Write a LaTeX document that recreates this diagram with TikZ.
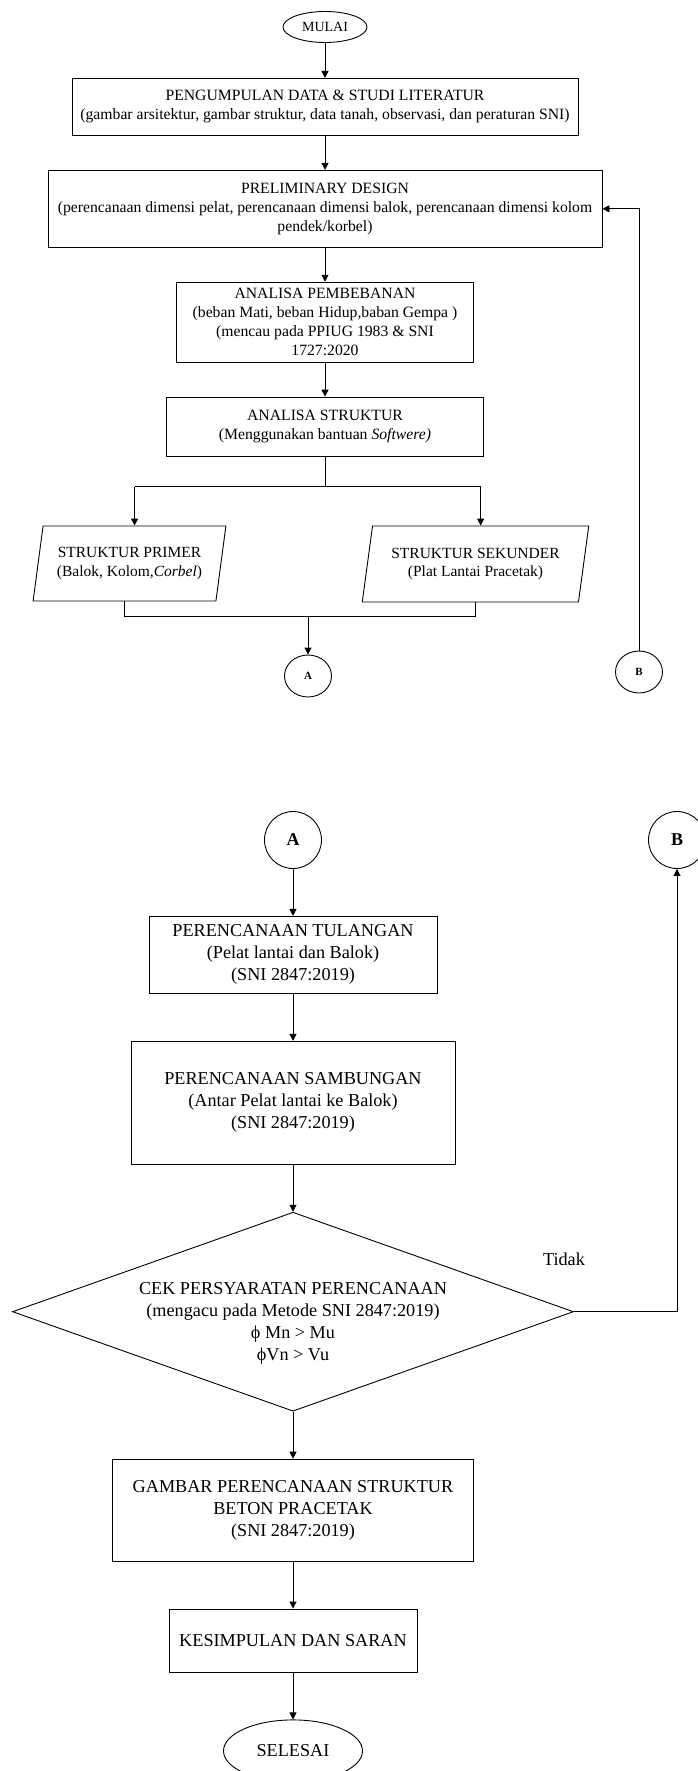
\documentclass[tikz,border=0pt]{standalone}
\usepackage{fontspec}
\setmainfont{Liberation Serif}
\usetikzlibrary{shapes.geometric, arrows.meta, positioning}

\begin{document}
\begin{tikzpicture}[
    x=1pt, y=1pt, line width=0.9pt,
    box/.style={draw, align=center, inner sep=2pt,
                font=\fontsize{15.7}{19}\selectfont},
    bigbox/.style={box, font=\fontsize{18.2}{22}\selectfont},
    term/.style={draw, ellipse, inner sep=0pt, font=\fontsize{14}{16}\selectfont},
    para/.style={draw, trapezium, trapezium left angle=76, trapezium right angle=104,
                 trapezium stretches=true, align=center, inner sep=1pt,
                 font=\fontsize{15.5}{18.5}\selectfont},
    conn/.style={draw, ellipse, inner sep=0pt, font=\bfseries\fontsize{11}{13}\selectfont},
    bigconn/.style={conn, minimum size=57pt, font=\bfseries\fontsize{18}{20}\selectfont},
    decision/.style={draw, diamond, aspect=2.82, inner sep=0pt, align=center,
                     font=\fontsize{18.2}{22}\selectfont},
    arrow/.style={-{Triangle[length=7pt,width=7pt]}},
    node distance=34pt,
]
\useasboundingbox (0,0) rectangle (697,-1771);

    % bagian pertama
    \node[term, minimum width=84pt, minimum height=31pt] (mulai) at (325,-27) {MULAI};
    \node[box, below=35pt of mulai, minimum width=506pt, minimum height=57pt] (data)
        {PENGUMPULAN DATA \& STUDI LITERATUR \\ (gambar arsitektur, gambar struktur, data tanah, observasi, dan peraturan SNI)};
    \node[box, below=of data, minimum width=554pt, minimum height=77pt] (prelim)
        {PRELIMINARY DESIGN \\ (perencanaan dimensi pelat, perencanaan dimensi balok, perencanaan dimensi kolom \\ pendek/korbel)};
    \node[box, below=of prelim, minimum width=297pt, minimum height=80pt] (beban)
        {ANALISA PEMBEBANAN \\ (beban Mati, beban Hidup,baban Gempa ) \\ (mencau pada PPIUG 1983 \& SNI \\ 1727:2020};
    \node[box, below=of beban, minimum width=317pt, minimum height=59pt] (analisa)
        {ANALISA STRUKTUR \\ (Menggunakan bantuan \textit{Softwere)}};

    \node[para, minimum width=193pt, minimum height=75pt] (primer) at (129.5,-563.5)
        {STRUKTUR PRIMER \\ (Balok, Kolom,\textit{Corbel})};
    \node[para, minimum width=227pt, minimum height=76pt] (sekunder) at (475.5,-564)
        {STRUKTUR SEKUNDER \\ (Plat Lantai Pracetak)};
    \node[conn, minimum width=47pt, minimum height=42pt] (a1) at (308,-676) {A};
    \node[conn, minimum width=47pt, minimum height=42pt] (b1) at (639,-672) {B};

    \foreach \a/\b in {mulai/data, data/prelim, prelim/beban, beban/analisa}
        \draw[arrow] (\a) -- (\b);

    \draw (analisa.south) -- ++(0,-30) coordinate (split);
    \draw (split -| primer.top side) -- (split -| sekunder.top side);
    \draw[arrow] (split -| primer.top side) -- (primer.top side);
    \draw[arrow] (split -| sekunder.top side) -- (sekunder.top side);
    \draw (primer.bottom side) -- ++(0,-15) coordinate (join) -| (sekunder.south);
    \draw[arrow] (join -| a1) -- (a1);
    \draw[arrow] (b1) |- (prelim.east);

    % bagian kedua
    \node[bigconn] (a2) at (293,-840) {A};
    \node[bigconn] (b2) at (677,-840) {B};
    \node[bigbox, below=47pt of a2, minimum width=288pt, minimum height=77pt] (tulangan)
        {PERENCANAAN TULANGAN \\ (Pelat lantai dan Balok) \\ (SNI 2847:2019)};
    \node[bigbox, below=47pt of tulangan, minimum width=324pt, minimum height=123pt] (sambungan)
        {PERENCANAAN SAMBUNGAN \\ (Antar Pelat lantai ke Balok) \\ (SNI 2847:2019)};
    \node[decision, below=47pt of sambungan, minimum width=561pt, minimum height=199pt] (cek)
        {\raisebox{-11pt}[\height][\depth]{\begin{tabular}{@{}c@{}}
         CEK PERSYARATAN PERENCANAAN \\ (mengacu pada Metode SNI 2847:2019) \\
         ϕ Mn > Mu \\ ϕVn > Vu \end{tabular}}};
    \node[bigbox, below=47pt of cek, minimum width=361pt, minimum height=102pt] (gambar)
        {GAMBAR PERENCANAAN STRUKTUR \\ BETON PRACETAK \\ (SNI 2847:2019)};
    \node[bigbox, below=47pt of gambar, minimum width=248pt, minimum height=63pt] (saran)
        {KESIMPULAN DAN SARAN};
    \node[term, below=47pt of saran, minimum width=139pt, minimum height=62pt,
          font=\fontsize{18.2}{22}\selectfont] (selesai) {SELESAI};
    \node[font=\fontsize{18.2}{22}\selectfont] (tidak) at (564,-1259) {Tidak};

    \foreach \a/\b in {a2/tulangan, tulangan/sambungan, sambungan/cek, cek/gambar, gambar/saran, saran/selesai}
        \draw[arrow] (\a) -- (\b);
    \draw[arrow] (cek.east) -| (b2);
\end{tikzpicture}
\end{document}
